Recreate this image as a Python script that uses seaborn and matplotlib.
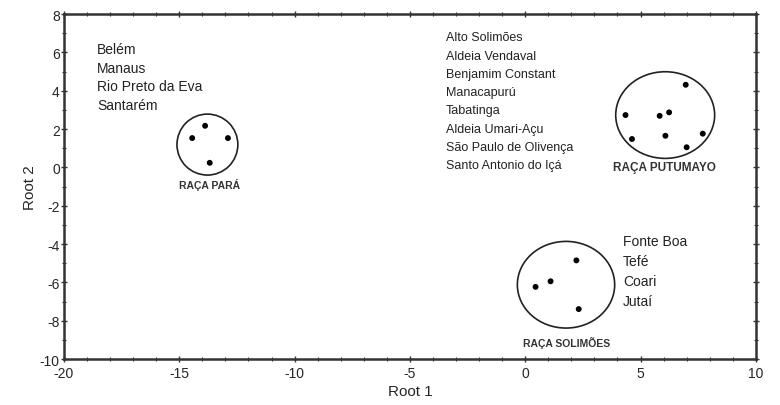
import matplotlib
matplotlib.use("Agg")
import matplotlib.pyplot as plt
from matplotlib.patches import Ellipse
from matplotlib.ticker import MultipleLocator
import seaborn as sns
import pandas as pd

# --- dados ---
para_x = [-14.44, -13.88, -12.89, -13.68]
para_y = [1.53, 2.17, 1.53, 0.24]

putumayo_x = [6.96, 4.35, 5.83, 6.24, 4.63, 6.08, 7.70, 7.00]
putumayo_y = [4.31, 2.73, 2.69, 2.87, 1.48, 1.65, 1.76, 1.05]

solimoes_x = [0.45, 1.10, 2.22, 2.32]
solimoes_y = [-6.23, -5.94, -4.85, -7.39]

grupos = ["RAÇA PARÁ", "RAÇA PUTUMAYO", "RAÇA SOLIMÕES"]
centros = [(-13.78, 1.19), (6.07, 2.73), (1.77, -6.12)]
larguras = [2.64, 4.29, 4.22]
alturas = [3.18, 4.52, 4.52]
rotulos_pos = [(-13.68, -0.87), (6.05, 0.02), (1.79, -9.09)]

locais_para = ["Belém", "Manaus", "Rio Preto da Eva", "Santarém"]
locais_putumayo = ["Alto Solimões", "Aldeia Vendaval", "Benjamim Constant",
                   "Manacapurú", "Tabatinga", "Aldeia Umari-Açu",
                   "São Paulo de Olivença", "Santo Antonio do Içá"]
locais_solimoes = ["Fonte Boa", "Tefé", "Coari", "Jutaí"]

df = pd.DataFrame({
    "Root 1": para_x + putumayo_x + solimoes_x,
    "Root 2": para_y + putumayo_y + solimoes_y,
    "Grupo": [grupos[0]] * len(para_x) + [grupos[1]] * len(putumayo_x) + [grupos[2]] * len(solimoes_x),
})

sns.set_style("ticks")
plt.rcParams["font.family"] = ["Liberation Sans", "DejaVu Sans"]
plt.rcParams["axes.unicode_minus"] = False

fig = plt.figure(figsize=(7.8, 4.06), dpi=100)
ax = fig.add_axes([0.082, 0.113, 0.887, 0.850])

sns.scatterplot(data=df, x="Root 1", y="Root 2", color="black", s=18,
                edgecolor="none", legend=False, ax=ax)

# círculos dos grupos
for (cx, cy), w, h in zip(centros, larguras, alturas):
    ax.add_patch(Ellipse((cx, cy), w, h, fill=False, edgecolor="#222222", lw=1.2))

for nome, (lx, ly) in zip(grupos, rotulos_pos):
    fs = 7.5 if nome != "RAÇA PUTUMAYO" else 8.5
    ax.text(lx, ly, nome, ha="center", va="center", fontsize=fs,
            fontweight="bold", color="#333333")

# listas de localidades
for i, nome in enumerate(locais_para):
    ax.text(-18.57, 6.19 - i * 0.985, nome, ha="left", va="center", fontsize=10, color="#222222")
for i, nome in enumerate(locais_putumayo):
    ax.text(-3.44, 6.78 - i * 0.951, nome, ha="left", va="center", fontsize=9, color="#222222")
for i, nome in enumerate(locais_solimoes):
    ax.text(4.24, -3.83 - i * 1.04, nome, ha="left", va="center", fontsize=10, color="#222222")

ax.set_xlim(-20, 10)
ax.set_ylim(-10, 8)
ax.xaxis.set_major_locator(MultipleLocator(5))
ax.xaxis.set_minor_locator(MultipleLocator(1))
ax.yaxis.set_major_locator(MultipleLocator(2))
ax.yaxis.set_minor_locator(MultipleLocator(1))
ax.tick_params(which="both", direction="inout", top=True, right=True,
               labelsize=10, color="#333333")
ax.tick_params(axis="x", pad=3)
ax.tick_params(axis="y", pad=1)
ax.tick_params(which="major", length=4, width=1)
ax.tick_params(which="minor", length=3, width=0.8)

for sp in ax.spines.values():
    sp.set_linewidth(1.8)
    sp.set_color("#333333")

ax.set_xlabel("Root 1", fontsize=11, labelpad=3)
ax.set_ylabel("Root 2", fontsize=11, labelpad=2)

fig.savefig("out.png", dpi=100)
